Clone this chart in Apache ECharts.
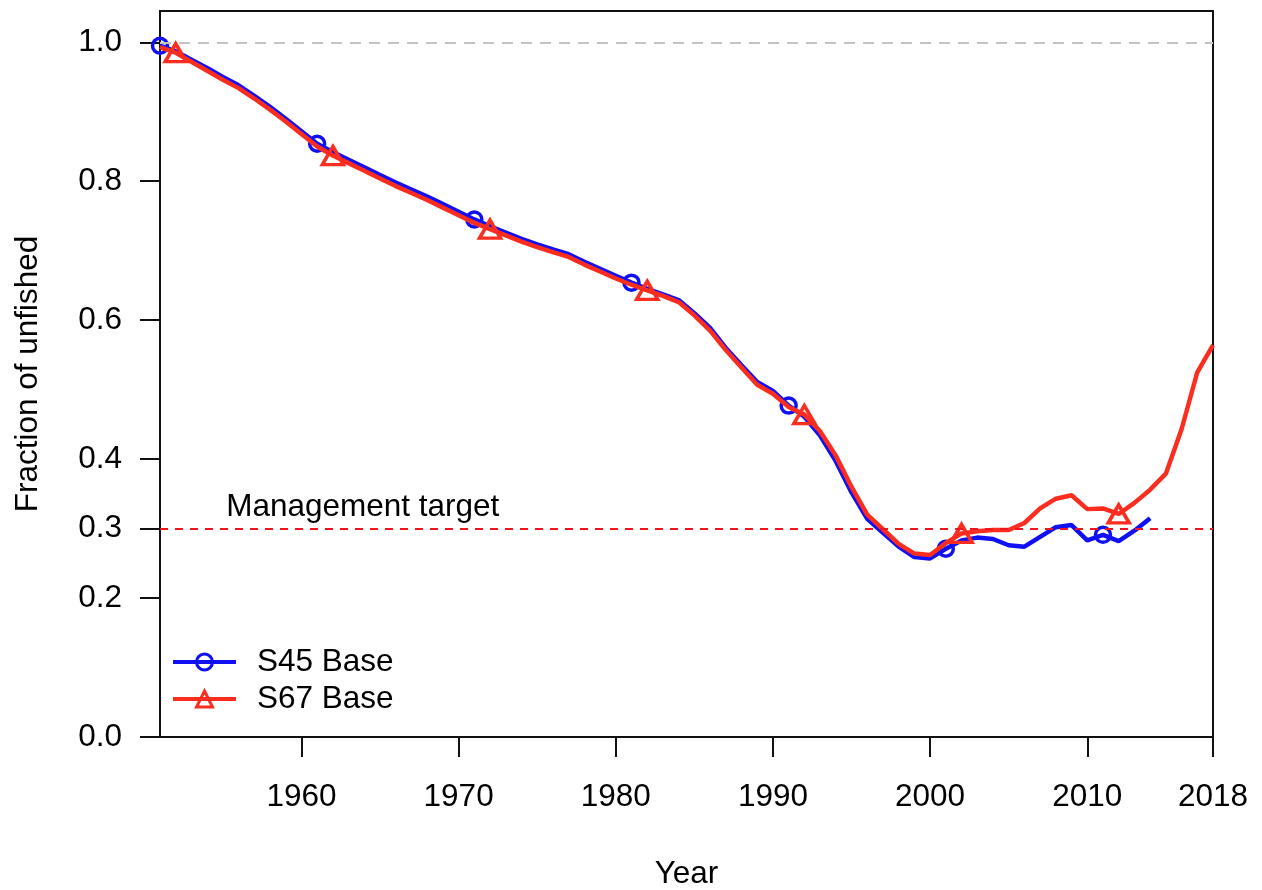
<!DOCTYPE html>
<html>
<head>
<meta charset="utf-8">
<title>Fraction of unfished</title>
<script src="https://cdn.jsdelivr.net/npm/echarts@6/dist/echarts.min.js"></script>
<style>
  html, body { margin: 0; padding: 0; background: #fff; }
  #chart { width: 1262px; height: 890px; }
</style>
</head>
<body>
<div id="chart"></div>
<script>
// Spawning biomass relative to unfished, two base models
const s45Start = 1951;
const s45Values = [
  0.995, 0.987, 0.975, 0.963, 0.950, 0.938, 0.923, 0.907, 0.890, 0.872,
  0.854, 0.842, 0.831, 0.820, 0.809, 0.798, 0.788, 0.778, 0.767, 0.756,
  0.745, 0.735, 0.726, 0.717, 0.709, 0.702, 0.695, 0.684, 0.674, 0.664,
  0.654, 0.645, 0.637, 0.629, 0.610, 0.589, 0.560, 0.535, 0.511, 0.498,
  0.477, 0.461, 0.434, 0.397, 0.352, 0.314, 0.294, 0.274, 0.259, 0.257,
  0.271, 0.283, 0.287, 0.285, 0.276, 0.274, 0.288, 0.302, 0.305, 0.283,
  0.291, 0.282, 0.297, 0.315
];
const s45MarkerYears = [1951, 1961, 1971, 1981, 1991, 2001, 2011];

const s67Start = 1951;
const s67Values = [
  0.993, 0.985, 0.972, 0.959, 0.946, 0.934, 0.919, 0.903, 0.886, 0.868,
  0.850, 0.837, 0.826, 0.815, 0.804, 0.793, 0.783, 0.773, 0.762, 0.751,
  0.740, 0.731, 0.722, 0.713, 0.705, 0.698, 0.691, 0.680, 0.670, 0.660,
  0.651, 0.643, 0.635, 0.626, 0.607, 0.585, 0.557, 0.532, 0.507, 0.494,
  0.475, 0.464, 0.440, 0.405, 0.360, 0.320, 0.299, 0.278, 0.264, 0.262,
  0.279, 0.293, 0.296, 0.298, 0.298, 0.308, 0.329, 0.343, 0.348, 0.328,
  0.329, 0.321, 0.337, 0.356, 0.379, 0.443, 0.525, 0.564
];
const s67MarkerYears = [1952, 1962, 1972, 1982, 1992, 2002, 2012];

const xTickValues = [1960, 1970, 1980, 1990, 2000, 2010, 2018];
const yTickValues = [0.0, 0.2, 0.3, 0.4, 0.6, 0.8, 1.0];
const unfishedLevel = 1.0;
const targetLevel = 0.3;
const targetLabel = 'Management target';
const targetLabelYear = 1963.9;

const BLUE = '#1010f2';
const RED = '#fb2d1f';
const FONT = '"Liberation Sans", Arial, Helvetica, sans-serif';
const FS = 31.5;

function toPoints(start, values, markers) {
  return values.map((v, i) => {
    const yr = start + i;
    return { value: [yr, v], symbol: markers.includes(yr) ? undefined : 'none' };
  });
}

const chart = echarts.init(document.getElementById('chart'), null, { renderer: 'canvas' });

chart.setOption({
  animation: false,
  backgroundColor: '#fff',
  textStyle: { fontFamily: FONT, color: '#000' },
  grid: {
    left: 160, right: 49, top: 11, bottom: 153,
    outerBoundsMode: 'none',
    containLabel: false,
    show: true, borderColor: '#111', borderWidth: 2, backgroundColor: 'transparent'
  },
  legend: {
    orient: 'vertical',
    left: 166, top: 641,
    itemWidth: 63, itemHeight: 20, itemGap: 5,
    lineStyle: { width: 4 },
    itemStyle: { borderWidth: 3 },
    textStyle: { fontFamily: FONT, fontSize: FS, color: '#000', padding: [0, 0, 0, 16] },
    data: ['S45 Base', 'S67 Base']
  },
  xAxis: {
    type: 'value',
    min: 1951, max: 2018,
    name: 'Year', nameLocation: 'middle', nameGap: 121,
    nameTextStyle: { fontFamily: FONT, fontSize: FS, color: '#000' },
    axisLine: { show: true, onZero: false, lineStyle: { color: '#111', width: 2 } },
    axisTick: { show: true, inside: false, length: 20, lineStyle: { color: '#111', width: 2 }, customValues: xTickValues },
    axisLabel: { fontFamily: FONT, fontSize: FS, color: '#000', margin: 44, customValues: xTickValues, formatter: v => String(v) },
    splitLine: { show: false }
  },
  yAxis: {
    type: 'value',
    min: 0, max: 1.045,
    name: 'Fraction of unfished', nameLocation: 'middle', nameGap: 116, nameRotate: 90,
    nameTextStyle: { fontFamily: FONT, fontSize: FS, color: '#000' },
    axisLine: { show: true, onZero: false, lineStyle: { color: '#111', width: 2 } },
    axisTick: { show: true, inside: false, length: 20, lineStyle: { color: '#111', width: 2 }, customValues: yTickValues },
    axisLabel: { fontFamily: FONT, fontSize: FS, color: '#000', margin: 38, customValues: yTickValues, formatter: v => v.toFixed(1) },
    splitLine: { show: false }
  },
  series: [
    {
      // reference levels: unfished and management target
      type: 'line',
      data: [],
      silent: true,
      z: 1,
      markLine: {
        silent: true,
        symbol: ['none', 'none'],
        label: { show: false },
        data: [
          { yAxis: unfishedLevel, lineStyle: { color: '#c4c4c4', width: 2, type: [11, 8] } },
          { yAxis: targetLevel, lineStyle: { color: '#f0141e', width: 2, type: [8, 7] } }
        ]
      },
      markPoint: {
        silent: true,
        symbol: 'circle', symbolSize: 0,
        data: [{ coord: [targetLabelYear, targetLevel] }],
        label: {
          show: true, position: 'top', distance: 5,
          formatter: targetLabel,
          fontFamily: FONT, fontSize: FS, color: '#000'
        }
      }
    },
    {
      name: 'S45 Base',
      type: 'line',
      z: 3,
      data: toPoints(s45Start, s45Values, s45MarkerYears),
      symbol: 'circle',
      symbolSize: 15,
      showAllSymbol: true,
      lineStyle: { color: BLUE, width: 4.5 },
      itemStyle: { color: 'rgba(255,255,255,0)', borderColor: BLUE, borderWidth: 3.5 }
    },
    {
      name: 'S67 Base',
      type: 'line',
      z: 4,
      data: toPoints(s67Start, s67Values, s67MarkerYears),
      symbol: 'triangle',
      symbolSize: [21, 18],
      showAllSymbol: true,
      lineStyle: { color: RED, width: 4.5 },
      itemStyle: { color: 'rgba(255,255,255,0)', borderColor: RED, borderWidth: 3.5 }
    }
  ]
});
</script>
</body>
</html>
